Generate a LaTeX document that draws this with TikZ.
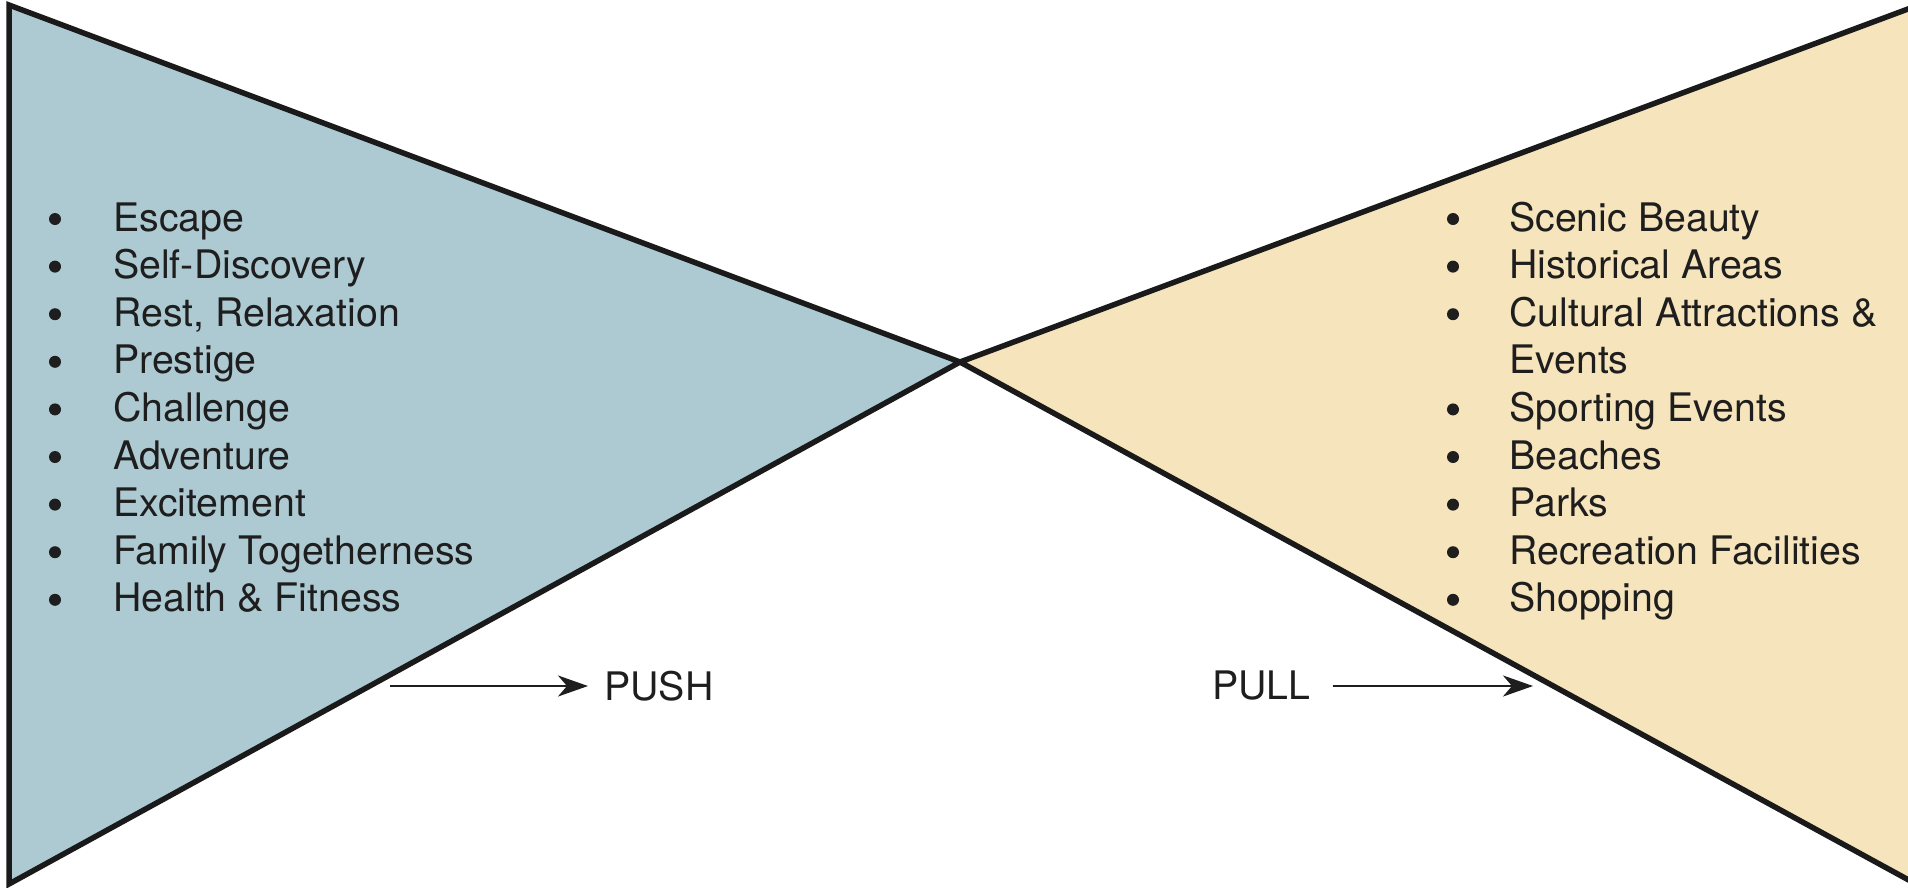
\documentclass[tikz,border=0pt]{standalone}
\usepackage{fontspec}
\setmainfont{TeX Gyre Heros}
\usetikzlibrary{arrows.meta}
\definecolor{pushblue}{RGB}{173,202,210}
\definecolor{pullbeige}{RGB}{246,228,188}
\definecolor{edge}{RGB}{26,26,26}
\definecolor{ink}{RGB}{30,30,30}
\tikzset{
  tri/.style={draw=edge, line width=5.5pt, line join=miter},
  item/.style={anchor=base west, inner sep=0pt, text=ink, font=\fontsize{39.3}{46}\selectfont},
  bul/.style={circle, fill=ink, inner sep=0pt, minimum size=12pt},
  conn/.style={draw=ink, line width=2.6pt, -{Stealth[length=30pt,width=21pt,inset=9pt]}}
}
\begin{document}
\begin{tikzpicture}[x=1pt,y=-1pt]
\useasboundingbox (0,0) rectangle (1908,887);
\clip (0,0) rectangle (1908,887);
\coordinate (apex) at (960,362);
\coordinate (lt) at (9,5);
\coordinate (lb) at (9,884);
\coordinate (rt) at (1916,6);
\coordinate (rb) at (1916,884);
\path[tri, fill=pushblue] (lt) -- (apex) -- (lb) -- cycle;
\path[tri, fill=pullbeige] (rt) -- (apex) -- (rb) -- cycle;
% left list
\foreach \t [count=\i] in {Escape,Self-Discovery,{Rest, Relaxation},Prestige,Challenge,Adventure,Excitement,Family Togetherness,Health \& Fitness}{
  \node[item] (l\i) at (113,{231+(\i-1)*47.6}) {\t};
  \node[bul] (lb\i) at (55,{219+(\i-1)*47.6}) {};
}
% right list
\foreach \t/\k [count=\i] in {Scenic Beauty/1,Historical Areas/1,Cultural Attractions \&/1,Events/0,Sporting Events/1,Beaches/1,Parks/1,Recreation Facilities/1,Shopping/1}{
  \node[item] (r\i) at (1509,{231+(\i-1)*47.6}) {\t};
  \ifnum\k=1 \node[bul] (rb\i) at (1453,{219+(\i-1)*47.6}) {};\fi
}
% push / pull
\node[item] (push) at (604,700) {PUSH};
\coordinate (pushstart) at (390,686);
\draw[conn, shorten >=16pt] (pushstart) -- (push.west |- pushstart);
\node[item] (pull) at (1212,699) {PULL};
\coordinate (pullend) at (1533,686);
\draw[conn, shorten <=22pt] (pull.east |- pullend) -- (pullend);
\end{tikzpicture}
\end{document}
